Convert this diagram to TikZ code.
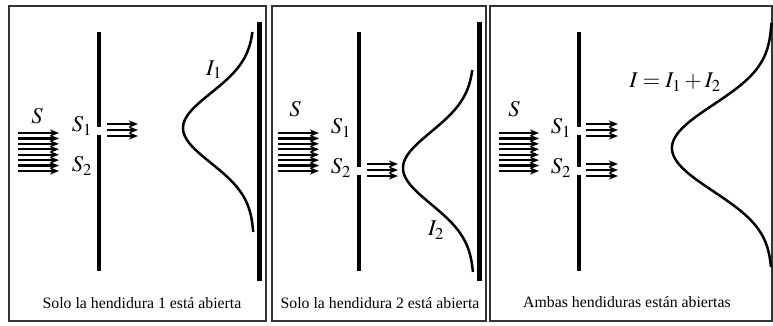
\documentclass[tikz,border=0pt]{standalone}
\usepackage{mathptmx}
\usepackage{fontspec}
\setmainfont{Liberation Serif}
\usetikzlibrary{arrows.meta}
\begin{document}
\begin{tikzpicture}[x=1pt,y=-1pt,
  frame/.style={draw=black!80,line width=1.4pt},
  wall/.style={line width=4.2pt},
  screen/.style={line width=5pt},
  ray/.style={line width=2.2pt,-{Stealth[length=9pt,width=7pt,inset=2.5pt]}},
  curve/.style={line width=2.5pt},
  lab/.style={inner sep=0pt,font=\fontsize{22.5}{26}\selectfont},
  captext/.style={inner sep=0pt,font=\fontsize{15.8}{18}\selectfont}]
\useasboundingbox (0,0) rectangle (773,326);
% frames
\draw[frame] (9,6) rectangle (266,321);
\draw[frame] (272,6) rectangle (486,321);
\draw[frame] (490,6) rectangle (772,321);
% ---------- panel 1
\foreach \k in {0,...,7}{\draw[ray] (18,{133+5.43*\k}) -- (59,{133+5.43*\k});}
\draw[wall] (99,32) -- (99,127) (99,135) -- (99,271);
\foreach \y in {124,130,136}{\draw[ray] (107,\y) -- (138,\y);}
\draw[screen] (259,22) -- (259,281);
\draw[curve] plot[domain=32:232,samples=90,smooth] ({254-71*exp(-((\x-128)/10)^2/24.5)},\x);
\node[lab] (s1) at (37,116) {$S$};
\node[lab] (s11) at (82,126) {$S_1$};
\node[lab] (s12) at (82,166) {$S_2$};
\node[lab] (i1) at (214,70) {$I_1$};
\node[captext] (c1) at (142,303) {Solo la hendidura 1 está abierta};
% ---------- panel 2
\foreach \k in {0,...,7}{\draw[ray] (278,{133+5.43*\k}) -- (319,{133+5.43*\k});}
\draw[wall] (359,32) -- (359,167) (359,175) -- (359,271);
\foreach \y in {164,170,176}{\draw[ray] (367,\y) -- (398,\y);}
\draw[screen] (479,22) -- (479,281);
\draw[curve] plot[domain=70:272,samples=90,smooth] ({474-71*exp(-((\x-168)/10)^2/26)},\x);
\node[lab] (s2) at (295,109) {$S$};
\node[lab] (s21) at (341,128) {$S_1$};
\node[lab] (s22) at (341,168) {$S_2$};
\node[lab] (i2) at (436,230) {$I_2$};
\node[captext] (c2) at (380,303) {Solo la hendidura 2 está abierta};
% ---------- panel 3
\foreach \k in {0,...,7}{\draw[ray] (499,{133+5.43*\k}) -- (539,{133+5.43*\k});}
\draw[wall] (579,32) -- (579,127) (579,135) -- (579,167) (579,175) -- (579,271);
\foreach \y in {124,130,136,164,170,176}{\draw[ray] (586,\y) -- (618,\y);}
\draw[curve] plot[domain=23:267,samples=120,smooth] ({772-58.9*(exp(-((\x-128)/10)^2/24.5)+exp(-((\x-168)/10)^2/24.5))},\x);
\node[lab] (s3) at (514,109) {$S$};
\node[lab] (s31) at (561,128) {$S_1$};
\node[lab] (s32) at (561,168) {$S_2$};
\node[lab] (i3) at (675,82) {$I=I_1+I_2$};
\node[captext] (c3) at (627,302) {Ambas hendiduras están abiertas};
\end{tikzpicture}
\end{document}
